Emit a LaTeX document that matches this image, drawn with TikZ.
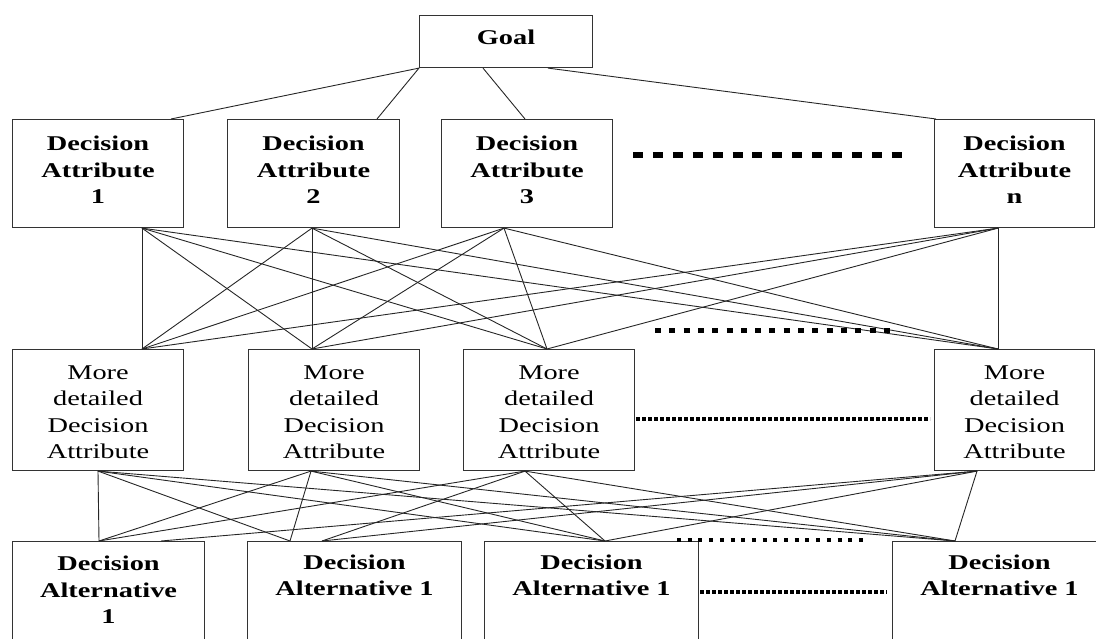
\documentclass[tikz,border=0pt]{standalone}
\usepackage{fontspec}
\setmainfont{Liberation Serif}[FakeStretch=1.35]
\begin{document}
\begin{tikzpicture}[x=1pt,y=-1pt,
  box/.style={draw=black!80, line width=1.1pt, inner sep=0pt, anchor=north west,
    align=center, font=\fontsize{21}{26.5}\selectfont},
  bbox/.style={box, font=\fontsize{21}{26.5}\selectfont\bfseries},
  rowA/.style={text height=84pt, text depth=24pt},
  rowB/.style={text height=109pt, text depth=12pt},
  rowCthree/.style={text height=82pt, text depth=100pt},
  rowCtwo/.style={text height=54pt, text depth=128pt},
  link/.style={draw=black!85, line width=0.9pt},
  dotbig/.style={line width=6.5pt, dash pattern=on 10pt off 9.9pt},
  dotmid/.style={line width=5pt, dash pattern=on 6pt off 8.3pt},
  dotfine/.style={line width=3.5pt, dash pattern=on 3.5pt off 2.5pt},
  dotsq/.style={line width=3.5pt, dash pattern=on 4pt off 6.7pt}]
\useasboundingbox (0,0) rectangle (1096,639);
\clip (0,0) rectangle (1096,639);

% boxes
\node[bbox, minimum width=173pt, text height=29pt, text depth=23pt] (goal) at (419,15) {Goal};

\node[bbox, rowA, minimum width=171pt] (da1) at (12,119) {Decision\\Attribute\\1};
\node[bbox, rowA, minimum width=172pt] (da2) at (227,119) {Decision\\Attribute\\2};
\node[bbox, rowA, minimum width=171pt] (da3) at (441,119) {Decision\\Attribute\\3};
\node[bbox, rowA, minimum width=160pt] (dan) at (934,119) {Decision\\Attribute\\n};

\node[box, rowB, minimum width=171pt] (md1) at (12,349) {More\\detailed\\Decision\\Attribute};
\node[box, rowB, minimum width=171pt] (md2) at (248,349) {More\\detailed\\Decision\\Attribute};
\node[box, rowB, minimum width=171pt] (md3) at (463,349) {More\\detailed\\Decision\\Attribute};
\node[box, rowB, minimum width=160pt] (mdn) at (934,349) {More\\detailed\\Decision\\Attribute};

\node[bbox, rowCthree, minimum width=192pt] (dl1) at (12,541) {Decision\\Alternative\\1};
\node[bbox, rowCtwo, minimum width=214pt] (dl2) at (247,541) {Decision\\Alternative 1};
\node[bbox, rowCtwo, minimum width=214pt] (dl3) at (484,541) {Decision\\Alternative 1};
\node[bbox, rowCtwo, minimum width=214pt] (dln) at (892,541) {Decision\\Alternative 1};

% anchor points
\coordinate (g1) at (goal.south west);
\coordinate (g2) at ([xshift=64pt]goal.south west);
\coordinate (g3) at ([xshift=129pt]goal.south west);

\coordinate (t1) at ([xshift=159pt]da1.north west);
\coordinate (t2) at ([xshift=150pt]da2.north west);
\coordinate (t3) at ([xshift=84pt]da3.north west);
\coordinate (t4) at ([xshift=2pt]dan.north west);

\coordinate (a1) at ([xshift=130pt]da1.south west);
\coordinate (a2) at ([xshift=85pt]da2.south west);
\coordinate (a3) at ([xshift=63pt]da3.south west);
\coordinate (a4) at ([xshift=64pt]dan.south west);

\coordinate (b1) at ([xshift=130pt]md1.north west);
\coordinate (b2) at ([xshift=64pt]md2.north west);
\coordinate (b3) at ([xshift=84pt]md3.north west);
\coordinate (b4) at ([xshift=64pt]mdn.north west);

\coordinate (c1) at ([xshift=86pt]md1.south west);
\coordinate (c2) at ([xshift=63pt]md2.south west);
\coordinate (c3) at ([xshift=62pt]md3.south west);
\coordinate (c4) at ([xshift=43pt]mdn.south west);

\coordinate (e1) at ([xshift=87pt]dl1.north west);
\coordinate (e1b) at ([xshift=149pt]dl1.north west);
\coordinate (e2) at ([xshift=43pt]dl2.north west);
\coordinate (e2b) at ([xshift=75pt]dl2.north west);
\coordinate (e3) at ([xshift=121pt]dl3.north west);
\coordinate (e4) at ([xshift=63pt]dln.north west);

% goal links
\draw[link] (g1) -- (t1);
\draw[link] (g1) -- (t2);
\draw[link] (g2) -- (t3);
\draw[link] (g3) -- (t4);

% attribute -> detailed attribute (complete)
\foreach \s in {a1,a2,a3,a4}{
  \foreach \t in {b1,b2,b3,b4}{
    \draw[link] (\s) -- (\t);
  }
}

% detailed attribute -> alternatives
\draw[link] (c1) -- (e1);
\draw[link] (c2) -- (e1);
\draw[link] (c3) -- (e1);
\draw[link] (c4) -- (e1b);
\draw[link] (c1) -- (e2);
\draw[link] (c2) -- (e2);
\draw[link] (c3) -- (e2b);
\draw[link] (c4) -- (e2b);
\foreach \s in {c1,c2,c3,c4}{
  \draw[link] (\s) -- (e3);
  \draw[link] (\s) -- (e4);
}

% ellipsis lines
\draw[dotbig] (633,155) -- (902,155);
\draw[dotmid] (655,331) -- (890,331);
\draw[dotfine] (636,419) -- (930,419);
\draw[dotsq] (677,540) -- (863,540);
\draw[dotfine] (700,592) -- (887,592);
\end{tikzpicture}
\end{document}
